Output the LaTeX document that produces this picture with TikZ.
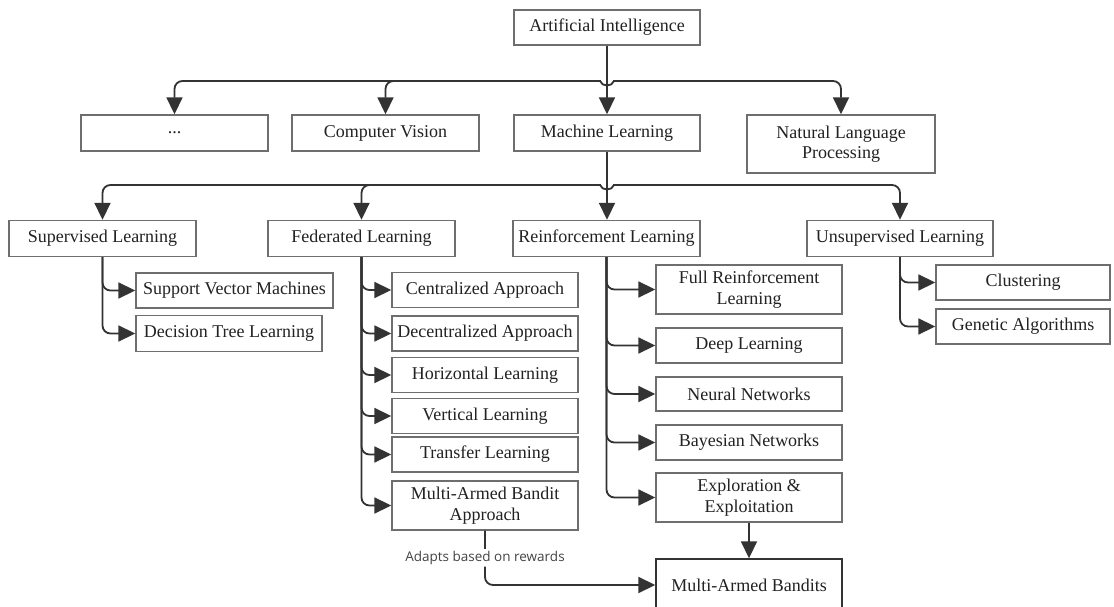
\documentclass[tikz,border=0pt]{standalone}
\usepackage{fontspec}
\setmainfont{Liberation Serif}
\newfontfamily\boxfont{Liberation Serif}
\newfontfamily\edgefont{Open Sans}
\usetikzlibrary{arrows.meta}

\definecolor{linegray}{HTML}{333333}
\definecolor{boxgray}{HTML}{6E6E6E}
\definecolor{textgray}{HTML}{222222}
\definecolor{labelgray}{HTML}{444444}

\tikzset{
  box/.style={draw=boxgray, line width=1.4pt, fill=white, text=textgray,
    font=\boxfont\fontsize{18}{20.5}\selectfont, align=center, inner sep=0pt},
  conn/.style={draw=linegray, line width=1.8pt, rounded corners=8pt,
    -{Triangle[length=17pt,width=16pt]}},
  wire/.style={draw=linegray, line width=1.8pt},
  edgelabel/.style={fill=white, text=labelgray, inner sep=2pt,
    font=\edgefont\fontsize{13.5}{15}\selectfont},
}

\begin{document}
\begin{tikzpicture}[x=1pt, y=-1pt]
  \fill[white] (0,0) rectangle (1114,607);
  \useasboundingbox (0,0) rectangle (1114,607);

  % root
  \node[box, minimum width=186pt, minimum height=35pt] (ai) at (607,27.5) {Artificial Intelligence};

  % first level
  \node[box, minimum width=187pt, minimum height=36pt] (dots) at (174.5,133) {...};
  \node[box, minimum width=187pt, minimum height=36pt] (cv) at (385.5,133) {Computer Vision};
  \node[box, minimum width=186pt, minimum height=36pt] (ml) at (607,133) {Machine Learning};
  \node[box, minimum width=188pt, minimum height=58pt] (nlp) at (841,144) {Natural Language\\Processing};

  % learning paradigms
  \node[box, minimum width=187pt, minimum height=36pt] (sup) at (102.5,238.5) {Supervised Learning};
  \node[box, minimum width=187pt, minimum height=36pt] (fed) at (361.5,238.5) {Federated Learning};
  \node[box, minimum width=187pt, minimum height=36pt] (rl) at (606.5,238.5) {Reinforcement Learning};
  \node[box, minimum width=186pt, minimum height=36pt] (unsup) at (900,238.5) {Unsupervised Learning};

  % supervised
  \node[box, minimum width=197pt, minimum height=35pt] (svm) at (234.5,290.5) {Support Vector Machines};
  \node[box, minimum width=186pt, minimum height=36pt] (dtl) at (229,333.5) {Decision Tree Learning};

  % federated
  \node[box, minimum width=186pt, minimum height=35pt] (cen) at (485,290) {Centralized Approach};
  \node[box, minimum width=186pt, minimum height=35pt] (dec) at (485,333.5) {Decentralized Approach};
  \node[box, minimum width=186pt, minimum height=35pt] (hor) at (485,375) {Horizontal Learning};
  \node[box, minimum width=186pt, minimum height=35pt] (ver) at (485,416) {Vertical Learning};
  \node[box, minimum width=186pt, minimum height=35pt] (tra) at (485,454.5) {Transfer Learning};
  \node[box, minimum width=186pt, minimum height=49pt] (maba) at (485,505.5) {Multi-Armed Bandit\\Approach};

  % reinforcement
  \node[box, minimum width=186pt, minimum height=49pt] (frl) at (749,289.5) {Full Reinforcement\\Learning};
  \node[box, minimum width=186pt, minimum height=35pt] (deep) at (749,345.5) {Deep Learning};
  \node[box, minimum width=186pt, minimum height=34pt] (nn) at (749,394) {Neural Networks};
  \node[box, minimum width=186pt, minimum height=35pt] (bay) at (749,442.5) {Bayesian Networks};
  \node[box, minimum width=186pt, minimum height=49pt] (expl) at (749,497.5) {Exploration \&\\Exploitation};
  \node[box, draw=linegray, minimum width=186pt, minimum height=52pt] (mab) at (749,585) {Multi-Armed Bandits};

  % unsupervised
  \node[box, minimum width=174pt, minimum height=35pt] (clu) at (1023,282.5) {Clustering};
  \node[box, minimum width=174pt, minimum height=35pt] (gen) at (1023,326.5) {Genetic Algorithms};

  % junctions on the two distribution buses
  \coordinate (busA) at (607,81);
  \coordinate (busB) at (607,185);

  % root to first level
  \draw[conn] (ai.south) -- (ml.north);
  \draw[conn] (ai.south |- busA) -| (dots.north);
  \draw[conn] (ai.south |- busA) -| (cv.north);
  \draw[conn] (ai.south |- busA) -| (nlp.north);

  % machine learning to paradigms
  \draw[conn] (ml.south) -- (rl.north -| ml.south);
  \draw[conn] (ml.south |- busB) -| (sup.north);
  \draw[conn] (ml.south |- busB) -| (fed.north);
  \draw[conn] (ml.south |- busB) -| (unsup.north);

  % line jumps where the buses pass the vertical feeds
  \foreach \c in {busA, busB} {
    \fill[white] ([xshift=-6pt, yshift=-3pt]\c) rectangle ([xshift=6pt, yshift=3pt]\c);
    \draw[wire] ([yshift=-5pt]\c) -- ([yshift=5pt]\c);
    \draw[wire] ([xshift=-7pt]\c) .. controls ([xshift=-5pt, yshift=-6pt]\c) and ([xshift=5pt, yshift=-6pt]\c) .. ([xshift=7pt]\c);
  }

  % supervised branches
  \draw[conn] (sup.south) |- (svm.west);
  \draw[conn] (sup.south) |- (dtl.west);

  % federated branches
  \foreach \n in {cen, dec, hor, ver, tra, maba}
    \draw[conn] (fed.south) |- (\n.west);

  % reinforcement branches
  \foreach \n in {frl, deep, nn, bay, expl}
    \draw[conn] (rl.south) |- (\n.west);

  % unsupervised branches
  \draw[conn] (unsup.south) |- (clu.west);
  \draw[conn] (unsup.south) |- (gen.west);

  % bandit links
  \draw[conn] (expl.south) -- (mab.north);
  \draw[conn] (maba.south) -- node[edgelabel, pos=0.5] {Adapts based on rewards} (maba.south |- mab.west) -- (mab.west);
\end{tikzpicture}
\end{document}
